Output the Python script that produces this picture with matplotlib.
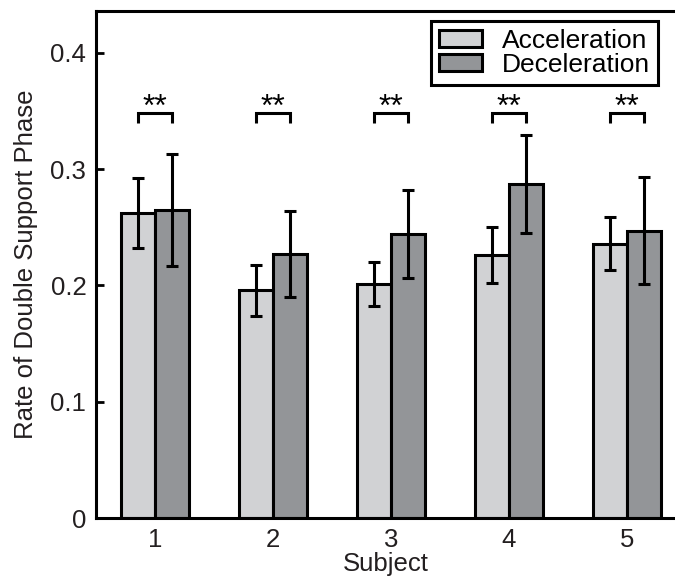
import matplotlib
matplotlib.use('Agg')
import matplotlib.pyplot as plt
import numpy as np

plt.rcParams['font.family'] = ['Liberation Sans', 'DejaVu Sans']

# data
subjects = [1, 2, 3, 4, 5]
accel_mean = [0.262, 0.196, 0.201, 0.226, 0.236]
accel_err = [0.030, 0.022, 0.019, 0.024, 0.023]
decel_mean = [0.265, 0.227, 0.244, 0.287, 0.247]
decel_err = [0.048, 0.037, 0.038, 0.042, 0.046]
sig_labels = ['**', '**', '**', '**', '**']
yticks = [0, 0.1, 0.2, 0.3, 0.4]
ytick_labels = ['0', '0.1', '0.2', '0.3', '0.4']

txt = '#231f20'
c_acc = '#d1d2d4'
c_dec = '#939598'
fs = 18.5

fig = plt.figure(figsize=(6.75, 5.76), dpi=100)
ax = fig.add_axes([96 / 675, 58 / 576, 579 / 675, 507 / 576])

x = np.array(subjects, dtype=float)
w = 0.288
lw = 2.2

ax.bar(x - w, accel_mean, w, align='edge', color=c_acc, edgecolor='black',
       linewidth=lw, label='Acceleration', zorder=2)
ax.bar(x, decel_mean, w, align='edge', color=c_dec, edgecolor='black',
       linewidth=lw, label='Deceleration', zorder=2)
ax.errorbar(x - w / 2, accel_mean, yerr=accel_err, fmt='none', ecolor='black',
            elinewidth=2.2, capsize=4, capthick=2.2, zorder=3)
ax.errorbar(x + w / 2, decel_mean, yerr=decel_err, fmt='none', ecolor='black',
            elinewidth=2.2, capsize=4, capthick=2.2, zorder=3)

# significance brackets
for xi, s in zip(x, sig_labels):
    ax.plot([xi - w / 2, xi - w / 2, xi + w / 2, xi + w / 2],
            [0.340, 0.348, 0.348, 0.340], color='black', lw=2.2,
            solid_capstyle='butt', solid_joinstyle='miter', zorder=3)
    ax.text(xi, 0.346, s, ha='center', va='baseline', fontsize=23, color='black')

ax.set_xlim(0.5, 5.407)
ax.set_ylim(0, 0.436)
ax.set_xticks(x)
ax.set_xticklabels([str(s) for s in subjects])
ax.set_yticks(yticks)
ax.set_yticklabels(ytick_labels)
ax.tick_params(axis='y', direction='in', length=6, width=2, pad=7,
               labelsize=fs, labelcolor=txt)
ax.tick_params(axis='x', direction='in', length=0, pad=7,
               labelsize=fs, labelcolor=txt)
ax.set_xlabel('Subject', fontsize=fs, color=txt, labelpad=0)
ax.set_ylabel('Rate of Double Support Phase', fontsize=fs, color=txt, labelpad=9)

for side in ['left', 'bottom', 'top']:
    ax.spines[side].set_linewidth(2.2)
ax.spines['right'].set_visible(False)

leg = ax.legend(loc='upper right', bbox_to_anchor=((658 - 96) / 579, 1 - 10 / 507),
                bbox_transform=ax.transAxes, fontsize=19, fancybox=False,
                framealpha=1, edgecolor='black', borderpad=0.3,
                labelspacing=0.0, handlelength=1.65, handleheight=0.6,
                handletextpad=0.75, borderaxespad=0)
leg.get_frame().set_linewidth(2.2)
for t in leg.get_texts():
    t.set_color('black')

fig.savefig('out.png', dpi=100)
